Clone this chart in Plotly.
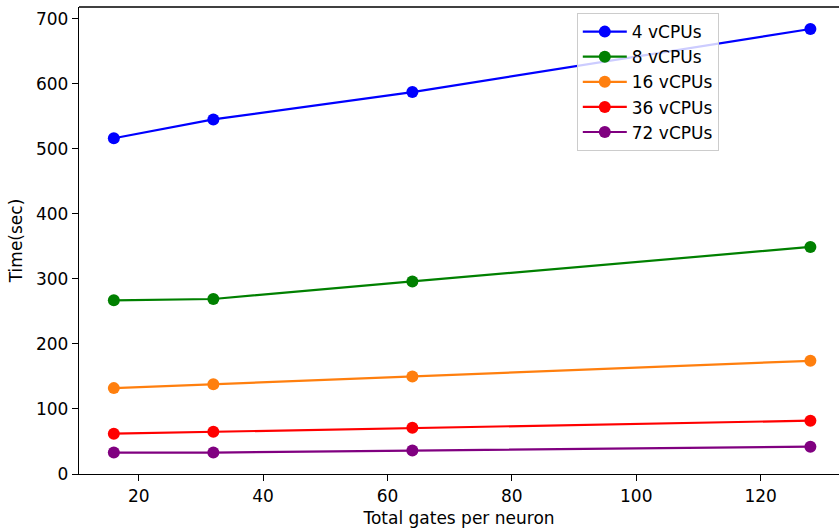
import plotly.graph_objects as go

# Total gates per neuron (x) and runtime in seconds per vCPU configuration
gates = [16, 32, 64, 128]
time_4 = [516, 545, 587, 684]
time_8 = [267, 269, 296, 349]
time_16 = [132, 138, 150, 174]
time_36 = [62, 65, 71, 82]
time_72 = [33, 33, 36, 42]

series = [
    ("4 vCPUs", time_4, "#0000ff"),
    ("8 vCPUs", time_8, "#008000"),
    ("16 vCPUs", time_16, "#ff7f0e"),
    ("36 vCPUs", time_36, "#ff0000"),
    ("72 vCPUs", time_72, "#800080"),
]

FONT = "DejaVu Sans"
FS = 17

fig = go.Figure()
for name, ys, color in series:
    fig.add_trace(go.Scatter(
        x=gates, y=ys, name=name, mode="lines+markers",
        line=dict(color=color, width=2.2),
        marker=dict(color=color, size=12),
    ))

fig.update_layout(
    width=839, height=530,
    margin=dict(l=79, r=0, t=7, b=56),
    paper_bgcolor="white", plot_bgcolor="white",
    font=dict(family=FONT, size=FS, color="black"),
    showlegend=True,
    legend=dict(
        x=0.655, y=0.987, xanchor="left", yanchor="top",
        bgcolor="rgba(255,255,255,0.8)", bordercolor="#cccccc", borderwidth=1,
        font=dict(family=FONT, size=FS), itemwidth=44,
    ),
)

fig.update_xaxes(
    range=[10.4, 132.6], tickvals=[20, 40, 60, 80, 100, 120],
    showgrid=False, zeroline=False, showline=True, linecolor="black", linewidth=1.3,
    ticks="outside", ticklen=6, tickwidth=1.3, tickcolor="black",
    title=dict(text="Total gates per neuron", font=dict(family=FONT, size=FS), standoff=7),
)
fig.update_yaxes(
    range=[0, 717.8], tickvals=[0, 100, 200, 300, 400, 500, 600, 700],
    showgrid=False, zeroline=False, showline=True, linecolor="black", linewidth=1.3,
    ticks="outside", ticklen=6, tickwidth=1.3, tickcolor="black",
    title=dict(text="Time(sec)", font=dict(family=FONT, size=FS), standoff=9),
)

# top frame line of the axes box
fig.add_shape(type="line", xref="paper", yref="paper", x0=0, x1=1, y0=1, y1=1,
              line=dict(color="black", width=1.3))

fig.write_html("out.html")
